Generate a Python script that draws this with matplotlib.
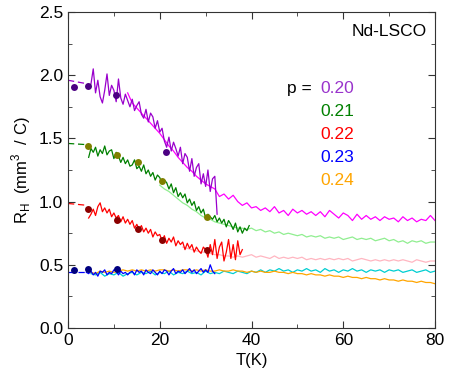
import matplotlib

matplotlib.use("Agg")
import matplotlib.pyplot as plt  # noqa: E402
import numpy as np  # noqa: E402
from matplotlib.ticker import MultipleLocator  # noqa: E402

plt.rcParams["font.family"] = ["Liberation Sans", "DejaVu Sans"]

# ---- data ----
# p = 0.20
t_020 = np.arange(4.5, 32.51, 0.5)
r_020 = [1.90, 1.93, 2.05, 1.86, 1.96, 1.83, 1.78, 1.88, 2.01, 1.84, 1.92, 1.88, 1.79, 1.97, 1.82,
         1.77, 1.85, 1.80, 1.75, 1.81, 1.72, 1.76, 1.79, 1.69, 1.66, 1.73, 1.63, 1.70, 1.67, 1.58,
         1.64, 1.55, 1.58, 1.48, 1.43, 1.51, 1.40, 1.47, 1.42, 1.36, 1.43, 1.30, 1.38, 1.35, 1.24,
         1.34, 1.20, 1.27, 1.30, 1.14, 1.22, 1.12, 1.25, 1.08, 1.18, 1.20, 0.90]
t_020b = np.arange(13, 80.1, 1)
r_020b = [1.86, 1.78, 1.74, 1.70, 1.66, 1.62, 1.58, 1.54, 1.49, 1.44, 1.40, 1.35, 1.31, 1.27, 1.24,
          1.20, 1.17, 1.14, 1.12, 1.10, 1.04, 1.06, 1.02, 1.05, 1.00, 0.97, 0.99, 0.95, 0.96, 0.93,
          0.95, 0.92, 0.96, 0.91, 0.93, 0.89, 0.94, 0.91, 0.93, 0.90, 0.92, 0.89, 0.92, 0.88, 0.93,
          0.90, 0.87, 0.91, 0.89, 0.85, 0.90, 0.86, 0.89, 0.86, 0.88, 0.85, 0.88, 0.86, 0.87, 0.84,
          0.88, 0.85, 0.87, 0.84, 0.86, 0.85, 0.89, 0.85]
dots_t_020 = [1.4, 4.4, 10.5, 21.4]
dots_r_020 = [1.91, 1.915, 1.84, 1.395]
dash_t_020 = [0, 4.5]
dash_r_020 = [1.96, 1.93]

# p = 0.21
t_021 = np.arange(4.5, 39.51, 0.5)
r_021 = [1.35, 1.42, 1.39, 1.43, 1.36, 1.41, 1.38, 1.44, 1.37, 1.40, 1.41, 1.34, 1.39, 1.36, 1.31,
         1.35, 1.30, 1.33, 1.28, 1.29, 1.33, 1.26, 1.28, 1.24, 1.29, 1.22, 1.25, 1.20, 1.23, 1.17,
         1.21, 1.19, 1.14, 1.17, 1.15, 1.10, 1.14, 1.07, 1.11, 1.04, 1.07, 1.03, 1.06, 0.99, 1.02,
         0.97, 1.00, 0.93, 0.96, 0.91, 0.94, 0.87, 0.90, 0.88, 0.86, 0.89, 0.84, 0.87, 0.83, 0.86,
         0.80, 0.85, 0.82, 0.78, 0.83, 0.76, 0.80, 0.75, 0.79, 0.77, 0.81]
t_021b = np.arange(20, 80.1, 1)
r_021b = [1.13, 1.10, 1.08, 1.05, 1.02, 0.99, 0.97, 0.94, 0.92, 0.89, 0.87, 0.86, 0.84, 0.83, 0.82,
          0.81, 0.80, 0.79, 0.79, 0.78, 0.79, 0.77, 0.78, 0.76, 0.77, 0.75, 0.76, 0.74, 0.75, 0.74,
          0.73, 0.74, 0.72, 0.73, 0.72, 0.73, 0.71, 0.72, 0.71, 0.72, 0.70, 0.71, 0.72, 0.70, 0.71,
          0.70, 0.71, 0.69, 0.70, 0.71, 0.69, 0.70, 0.68, 0.69, 0.67, 0.69, 0.68, 0.69, 0.67, 0.68,
          0.68]
dots_t_021 = [4.3, 10.6, 15.2, 20.4, 30.2]
dots_r_021 = [1.44, 1.37, 1.31, 1.16, 0.876]
dash_t_021 = [0, 4.3]
dash_r_021 = [1.46, 1.45]

# p = 0.22
t_022 = np.arange(4.5, 38.01, 0.5)
r_022 = [0.87, 0.90, 0.94, 0.89, 0.96, 0.99, 0.92, 0.95, 0.91, 0.94, 0.88, 0.91, 0.87, 0.89, 0.84,
         0.88, 0.83, 0.86, 0.82, 0.85, 0.79, 0.82, 0.78, 0.81, 0.76, 0.79, 0.75, 0.78, 0.72, 0.76,
         0.73, 0.74, 0.69, 0.73, 0.67, 0.71, 0.68, 0.72, 0.65, 0.69, 0.66, 0.68, 0.62, 0.67, 0.63,
         0.66, 0.60, 0.64, 0.61, 0.59, 0.64, 0.62, 0.56, 0.66, 0.58, 0.70, 0.55, 0.64, 0.68, 0.53,
         0.60, 0.70, 0.55, 0.66, 0.54, 0.69, 0.58, 0.62]
t_022b = np.arange(25, 80.1, 1)
r_022b = [0.64, 0.63, 0.62, 0.61, 0.60, 0.60, 0.59, 0.58, 0.58, 0.57, 0.57, 0.56, 0.57, 0.56, 0.57,
          0.58, 0.56, 0.57, 0.56, 0.55, 0.57, 0.55, 0.56, 0.55, 0.56, 0.55, 0.56, 0.54, 0.55, 0.54,
          0.55, 0.54, 0.55, 0.54, 0.55, 0.54, 0.55, 0.53, 0.54, 0.55, 0.54, 0.53, 0.54, 0.53, 0.54,
          0.53, 0.54, 0.53, 0.54, 0.53, 0.52, 0.54, 0.53, 0.52, 0.53, 0.53]
dots_t_022 = [4.3, 10.6, 15.3, 20.4, 30.4]
dots_r_022 = [0.94, 0.855, 0.78, 0.70, 0.62]
dash_t_022 = [0, 4.3]
dash_r_022 = [0.985, 0.97]

# p = 0.23
t_023 = np.arange(4.0, 32.01, 0.5)
r_023 = [0.44, 0.43, 0.45, 0.42, 0.44, 0.41, 0.45, 0.44, 0.46, 0.42, 0.44, 0.43, 0.46, 0.45, 0.42,
         0.45, 0.43, 0.44, 0.42, 0.44, 0.45, 0.42, 0.46, 0.44, 0.45, 0.42, 0.46, 0.44, 0.43, 0.46,
         0.44, 0.42, 0.45, 0.43, 0.46, 0.45, 0.42, 0.45, 0.47, 0.43, 0.45, 0.44, 0.46, 0.43, 0.45,
         0.47, 0.44, 0.46, 0.43, 0.45, 0.47, 0.44, 0.46, 0.44, 0.50, 0.45, 0.43]
t_023b = np.arange(5, 80.1, 1)
r_023b = [0.43, 0.42, 0.44, 0.41, 0.43, 0.42, 0.44, 0.41, 0.43, 0.44, 0.42, 0.44, 0.43, 0.45, 0.42,
          0.44, 0.43, 0.45, 0.42, 0.44, 0.43, 0.45, 0.43, 0.44, 0.42, 0.45, 0.43, 0.44, 0.43, 0.45,
          0.44, 0.43, 0.45, 0.44, 0.43, 0.45, 0.44, 0.46, 0.44, 0.46, 0.45, 0.47, 0.45, 0.46, 0.44,
          0.46, 0.45, 0.47, 0.45, 0.46, 0.44, 0.47, 0.45, 0.46, 0.44, 0.46, 0.45, 0.47, 0.45, 0.46,
          0.44, 0.46, 0.45, 0.46, 0.44, 0.46, 0.45, 0.46, 0.44, 0.45, 0.46, 0.44, 0.45, 0.46, 0.44,
          0.45]
dots_t_023 = [1.4, 4.3, 10.6]
dots_r_023 = [0.46, 0.47, 0.47]
dash_t_023 = [0, 4.0]
dash_r_023 = [0.44, 0.44]

# p = 0.24
t_024 = np.arange(5, 80.1, 1)
r_024 = [0.44, 0.43, 0.45, 0.44, 0.45, 0.44, 0.45, 0.46, 0.45, 0.46, 0.45, 0.46, 0.45, 0.46, 0.45,
         0.46, 0.46, 0.45, 0.46, 0.45, 0.46, 0.46, 0.45, 0.46, 0.45, 0.46, 0.45, 0.45, 0.46, 0.45,
         0.45, 0.46, 0.45, 0.45, 0.44, 0.45, 0.44, 0.45, 0.44, 0.44, 0.45, 0.44, 0.44, 0.43, 0.44,
         0.43, 0.43, 0.42, 0.43, 0.42, 0.42, 0.41, 0.42, 0.41, 0.41, 0.40, 0.41, 0.40, 0.40, 0.39,
         0.40, 0.39, 0.39, 0.38, 0.39, 0.38, 0.38, 0.37, 0.38, 0.37, 0.37, 0.36, 0.37, 0.36, 0.36,
         0.35]

dopings = ["0.20", "0.21", "0.22", "0.23", "0.24"]
label_colors = ["#9933CC", "#008000", "#FF0000", "#0000FF", "#FFA500"]

fig = plt.figure(figsize=(4.58, 3.82), dpi=100)
ax = fig.add_axes([0.1485, 0.1414, 0.8013, 0.8272])

lw = 0.9
# extended (lighter) curves first
ax.plot(t_020b, r_020b, color="#FF00FF", lw=lw)
ax.plot(t_021b, r_021b, color="#90EE90", lw=lw)
ax.plot(t_022b, r_022b, color="#FFB6C1", lw=lw)
ax.plot(t_023b, r_023b, color="#00CED1", lw=lw)
ax.plot(t_024, r_024, color="#FFA500", lw=lw)

ax.plot(t_020, r_020, color="#9900CC", lw=lw)
ax.plot(t_021, r_021, color="#008000", lw=lw)
ax.plot(t_022, r_022, color="#FF0000", lw=lw)
ax.plot(t_023, r_023, color="#0000FF", lw=lw)

ax.plot(dash_t_020, dash_r_020, color="#9900CC", lw=lw, ls=(0, (5, 3)))
ax.plot(dash_t_021, dash_r_021, color="#008000", lw=lw, ls=(0, (5, 3)))
ax.plot(dash_t_022, dash_r_022, color="#FF0000", lw=lw, ls=(0, (5, 3)))
ax.plot(dash_t_023, dash_r_023, color="#0000FF", lw=lw, ls=(0, (5, 3)))

ax.plot(dots_t_020, dots_r_020, "o", color="#4B0082", ms=5, mec="none")
ax.plot(dots_t_021, dots_r_021, "o", color="#808000", ms=5, mec="none")
ax.plot(dots_t_022, dots_r_022, "o", color="#8B0000", ms=5, mec="none")
ax.plot(dots_t_023, dots_r_023, "o", color="#000080", ms=5, mec="none")

ax.set_xlim(0, 80)
ax.set_ylim(0, 2.5)
ax.xaxis.set_major_locator(MultipleLocator(20))
ax.xaxis.set_minor_locator(MultipleLocator(10))
ax.yaxis.set_major_locator(MultipleLocator(0.5))
ax.yaxis.set_minor_locator(MultipleLocator(0.25))
ax.yaxis.set_major_formatter(plt.FormatStrFormatter("%.1f"))
ax.tick_params(which="both", direction="in", top=True, right=True, labelsize=12.5, color="#333333")
ax.tick_params(which="major", length=5)
ax.tick_params(which="minor", length=3)
for s in ax.spines.values():
    s.set_color("#333333")

ax.set_xlabel("T(K)", fontsize=12)
ax.set_ylabel(r"R$_\mathregular{H}$  (mm$^\mathregular{3}$  / C)", fontsize=12)

ax.text(78.2, 2.345, "Nd-LSCO", ha="right", va="center", fontsize=12.5)
ax.text(53.2, 1.893, "p =", ha="right", va="center", fontsize=12.5)
for i, (d, c) in enumerate(zip(dopings, label_colors)):
    ax.text(55.1, 1.893 - i * 0.181, d, color=c, ha="left", va="center", fontsize=12.5)

fig.savefig("out.png", dpi=100)
